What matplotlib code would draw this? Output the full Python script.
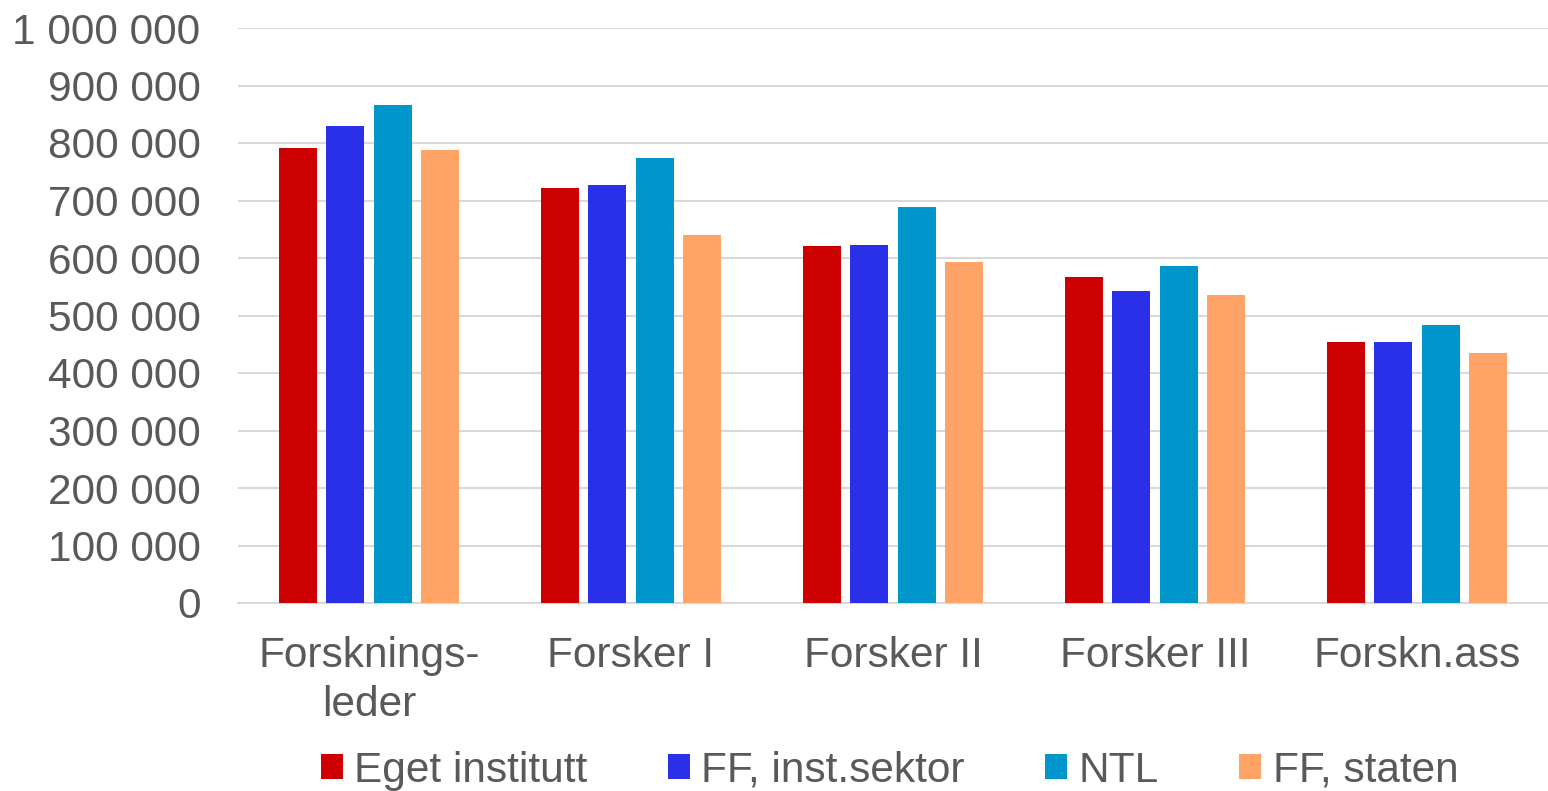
import matplotlib
matplotlib.use("Agg")
import matplotlib.pyplot as plt
import numpy as np

categories = ["Forsknings-\nleder", "Forsker I", "Forsker II", "Forsker III", "Forskn.ass"]
series_names = ["Eget institutt", "FF, inst.sektor", "NTL", "FF, staten"]
eget = [791000, 722000, 621000, 567000, 454000]
ff_inst = [830000, 727000, 623000, 543000, 454000]
ntl = [866000, 774000, 689000, 586000, 483000]
ff_staten = [788000, 640000, 593000, 536000, 435000]
colors = ["#CC0000", "#2A2FE8", "#0096CC", "#FFA366"]
yticks = list(range(0, 1000001, 100000))
ytick_labels = ["0"] + [f"{v:,}".replace(",", " ") for v in yticks[1:]]

plt.rcParams['font.family'] = ['Liberation Sans', 'DejaVu Sans']
fig = plt.figure(figsize=(15.48, 7.91), dpi=100)
ax = fig.add_axes([238/1548, 1-603/791, 1-238/1548, (603-28)/791])

x = np.arange(len(categories))
step = 0.181
width = 0.145
for i, (vals, name, c) in enumerate(zip([eget, ff_inst, ntl, ff_staten], series_names, colors)):
    ax.bar(x + (i - 1.5) * step, vals, width, color=c, label=name, zorder=3)

ax.set_xlim(-0.5, len(categories) - 0.5)
ax.set_ylim(0, 1000000)
ax.set_yticks(yticks)
ax.set_yticklabels(ytick_labels)
ax.set_xticks(x)
ax.set_xticklabels(categories, linespacing=1.28)
ax.tick_params(axis='both', length=0, labelsize=30.5, labelcolor="#595959")
ax.tick_params(axis='y', pad=27)
ax.tick_params(axis='x', pad=24)
for lbl in ax.get_yticklabels():
    lbl.set_horizontalalignment('right')
ax.yaxis.grid(True, color="#D9D9D9", linewidth=1.5, zorder=0)
for s in ["top", "right", "left"]:
    ax.spines[s].set_visible(False)
ax.spines["bottom"].set_color("#D9D9D9")
ax.spines["bottom"].set_linewidth(1.5)

fig.legend(loc="lower center", bbox_to_anchor=(0.5746, -0.048), ncol=4, frameon=False,
           fontsize=30.5, labelcolor="#595959", handlelength=0.52, handleheight=0.52,
           handletextpad=0.27, columnspacing=1.9)
fig.savefig("out.png", dpi=100)
